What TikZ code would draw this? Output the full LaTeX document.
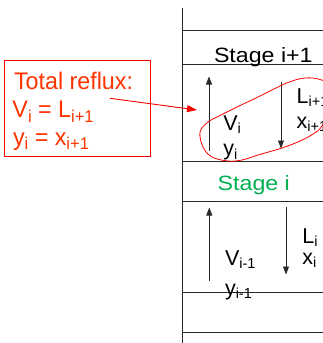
\documentclass[tikz,border=0pt]{standalone}
\usepackage{fontspec}
\setmainfont{Liberation Sans}
\newfontfamily\redfont[FakeStretch=0.97]{Liberation Sans}
\newfontfamily\stagefont[FakeStretch=1.12]{Liberation Sans}
\usetikzlibrary{arrows.meta}
\definecolor{redtext}{RGB}{255,51,0}
\definecolor{boxred}{RGB}{255,0,0}
\definecolor{stagegreen}{RGB}{0,176,80}
\definecolor{linegray}{RGB}{40,40,40}
\newcommand\sbs[1]{\raisebox{-3.5pt}{\fontsize{14.5}{14}\selectfont #1}}
\newcommand\rsb[1]{\raisebox{-4.5pt}{\fontsize{17}{17}\selectfont #1}}
\tikzset{
  txt/.style={anchor=base west, inner sep=0pt, outer sep=0pt},
  redtxt/.style={txt, text=redtext, font=\redfont\fontsize{24}{28}\selectfont},
  stagetxt/.style={txt, font=\stagefont\fontsize{20.7}{24}\selectfont},
  lbl/.style={txt, font=\fontsize{21.5}{24}\selectfont},
  trayline/.style={draw=linegray, line width=0.9pt},
  flow/.style={draw=linegray, line width=0.8pt, -{Triangle[length=8pt,width=6pt]}},
}
\begin{document}
\begin{tikzpicture}[x=1pt,y=-1pt]
\useasboundingbox (0,0) rectangle (323,343);
\clip (0,0) rectangle (323,343);
% column wall and tray lines
\coordinate (wtop) at (182,8.3);
\coordinate (wbot) at (182,343);
\draw[trayline, line width=1pt] (wtop) -- (wbot);
\foreach \yy/\nm in {30.3/t1, 64.5/t2, 161.3/t3, 201/t4, 292.3/t5, 332.5/t6}{
  \coordinate (\nm a) at (182,\yy);
  \coordinate (\nm b) at (323,\yy);
  \draw[trayline] (\nm a) -- (\nm b);
}
% stage labels
\node[stagetxt] (stip) at (214,62.3) {Stage i+1};
\node[stagetxt, text=stagegreen] (sti) at (217.7,190) {Stage i};
% upper stage flows
\coordinate (u1s) at (209,151);
\coordinate (u1e) at (209,76.5);
\draw[flow] (u1s) -- (u1e);
\coordinate (d1s) at (281,81.7);
\coordinate (d1e) at (281,148.5);
\draw[flow] (d1s) -- (d1e);
\node[lbl] (vi) at (223.3,130) {V\sbs{i}};
\node[lbl] (yi) at (223.3,155.5) {y\sbs{i}};
\node[lbl] (lip) at (296.7,103.3) {L\sbs{i+1}};
\node[lbl] (xip) at (296.7,128.3) {x\sbs{i+1}};
% lower stage flows
\coordinate (u2s) at (209.3,280.7);
\coordinate (u2e) at (209.3,207.5);
\draw[flow] (u2s) -- (u2e);
\coordinate (d2s) at (286,207.3);
\coordinate (d2e) at (286,274.5);
\draw[flow] (d2s) -- (d2e);
\node[lbl] (vim) at (225,265) {V\sbs{i-1}};
\node[lbl] (yim) at (225,295) {y\sbs{i-1}};
\node[lbl] (li) at (302.3,243.3) {L\sbs{i}};
\node[lbl] (xi) at (302.3,264.3) {x\sbs{i}};
% red blob
\draw[boxred, line width=0.8pt] plot[smooth cycle, tension=0.6] coordinates {
  (200,132) (208,122) (218,116.5) (235,108) (258,97) (280,86) (292,81)
  (305,78) (318,79) (329,85) (332,105) (322,126) (313,134) (300,141)
  (282,148) (258,155) (242,160) (228,161) (212,157) (203,147)};
% reflux box
\node[draw=boxred, line width=1pt, minimum width=146.7pt, minimum height=96.7pt,
      inner sep=0pt] (box) at (77.35,108.35) {};
\node[redtxt] (r1) at (14,89.3) {Total reflux:};
\node[redtxt] (r2) at (12.5,117.5) {V\rsb{i} = L\rsb{i+1}};
\node[redtxt] (r3) at (13,145) {y\rsb{i} = x\rsb{i+1}};
\coordinate (as) at (110,98.3);
\coordinate (ae) at (197,110);
\draw[boxred, line width=0.9pt, -{Triangle[length=10pt,width=7pt]}] (as) -- (ae);
\end{tikzpicture}
\end{document}
